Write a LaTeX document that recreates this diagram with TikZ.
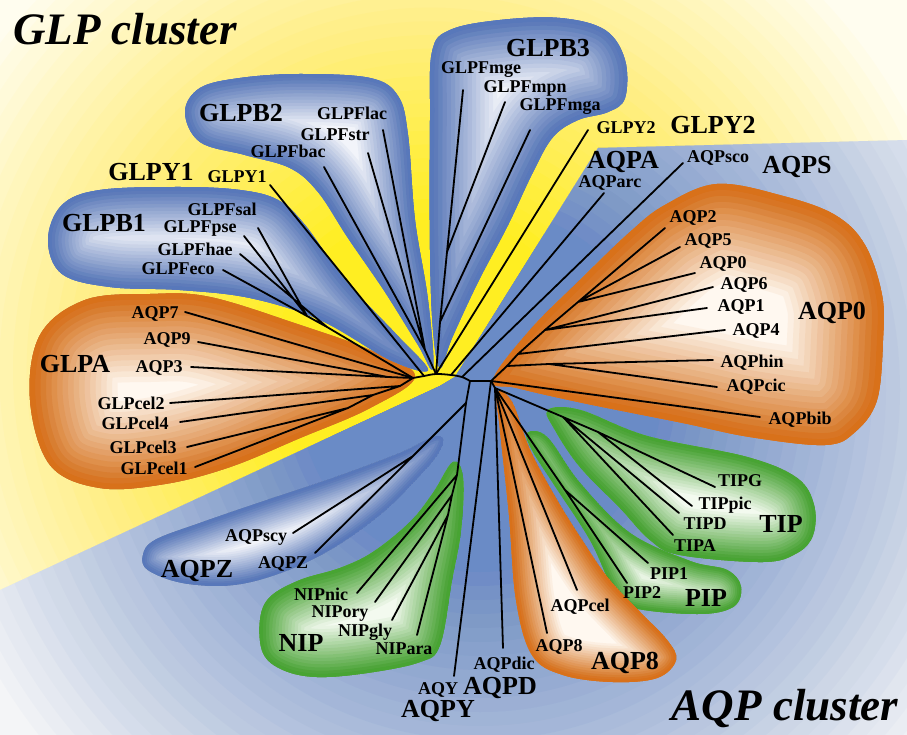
\documentclass[tikz,border=0pt]{standalone}
\usepackage{fontspec}
\setmainfont{Liberation Serif}

\definecolor{cream}{HTML}{FFFDEF}
\definecolor{ybright}{HTML}{FFEE22}
\definecolor{bgblue}{HTML}{6A8BC6}
\definecolor{bgpale}{HTML}{F4F5F7}
\definecolor{orim}{HTML}{D8711A}
\definecolor{ocore}{HTML}{FFF8F0}
\definecolor{brim}{HTML}{5878BA}
\definecolor{bcore}{HTML}{F2F4FA}
\definecolor{grim}{HTML}{48A433}
\definecolor{gcore}{HTML}{F3FAEF}

% radial glow built from stacked discs: layer k has opacity 1/k,
% which gives a linear ramp from full colour at r0 to nothing at R
% #1 colour, #2 centre, #3 r0, #4 R, #5 number of layers
\newcommand\discglow[5]{%
  \foreach \k in {1,...,#5}{%
    \pgfmathsetmacro\gop{1/\k}%
    \pgfmathsetmacro\grad{#3+\k*(#4-#3)/#5}%
    \fill[#1, opacity=\gop] #2 circle (\grad pt);
  }}

% a clade blob: pale core with an inner glow of the rim colour
% #1 rim colour, #2 core colour, #3 glow step, #4 outline points
\newcommand\glowblob[4]{%
  \begin{scope}
    \clip plot[smooth cycle, tension=0.6] coordinates {#4};
    \fill[#2] plot[smooth cycle, tension=0.6] coordinates {#4};
    \foreach \k in {1,...,16}{%
      \pgfmathsetmacro\bop{1/\k}%
      \draw[#1, line width={2*\k*#3}, opacity=\bop, line join=round]
        plot[smooth cycle, tension=0.6] coordinates {#4};
    }
  \end{scope}}

\tikzset{
  tree/.style={line width=1.8pt, line cap=round, line join=round},
  sm/.style={font=\bfseries\fontsize{18}{18}\selectfont, inner sep=0pt, anchor=base, yshift=-6pt},
  big/.style={font=\bfseries\fontsize{26}{26}\selectfont, inner sep=0pt, anchor=base, yshift=-9pt},
  ttl/.style={font=\bfseries\itshape\fontsize{45}{45}\selectfont, inner sep=0pt, anchor=base},
}

\begin{document}
\begin{tikzpicture}[x=1pt,y=-1pt]
\useasboundingbox (0,0) rectangle (907,735);

% ---- background: GLP half (yellow) and AQP half (blue)
\begin{scope}
  \clip (0,0) rectangle (907,735);
  \fill[cream] (0,0) rectangle (907,735);
  \discglow{ybright}{(430,370)}{130}{540}{30}
\end{scope}
\begin{scope}
  \clip (0,590) -- (440,386) -- (455,377) -- (598,148) -- (907,140) -- (907,735) -- (0,735) -- cycle;
  \fill[bgpale] (0,0) rectangle (907,735);
  \discglow{bgblue}{(480,390)}{140}{560}{30}
\end{scope}

% ---- clade blobs
% GLPA
\glowblob{orim}{ocore}{5.5pt}{(30,400) (40,335) (85,300) (150,294) (210,297) (300,325) (370,350) (415,376) (370,408) (300,438) (230,467) (165,484) (100,488) (50,465)}
% GLPB1
\glowblob{brim}{bcore}{3.4pt}{(48,240) (62,205) (100,190) (180,187) (240,190) (278,200) (305,225) (345,280) (395,333) (428,370) (390,360) (320,320) (250,298) (180,290) (110,287) (62,274)}
% GLPB2
\glowblob{brim}{bcore}{3.2pt}{(185,112) (200,88) (240,78) (300,74) (370,78) (398,96) (408,135) (415,220) (428,300) (433,368) (418,345) (385,292) (348,238) (318,192) (290,168) (245,155) (200,142)}
% GLPB3
\glowblob{brim}{bcore}{4.2pt}{(432,52) (450,30) (500,20) (560,18) (605,30) (625,60) (625,98) (608,112) (578,120) (553,137) (533,172) (508,225) (478,282) (452,338) (440,368) (433,330) (430,250) (430,120)}
% AQP0
\glowblob{orim}{ocore}{6pt}{(493,380) (530,330) (580,280) (630,232) (665,205) (717,184) (783,196) (835,215) (865,245) (882,295) (883,340) (877,400) (855,432) (825,445) (750,437) (683,423) (583,403) (517,388)}
% TIP
\glowblob{grim}{gcore}{3pt}{(548,410) (580,410) (647,436) (747,457) (797,478) (814,505) (813,535) (797,553) (763,562) (680,555) (650,540) (620,508) (580,467) (555,430)}
% PIP
\glowblob{grim}{gcore}{2pt}{(527,433) (547,437) (580,483) (630,533) (690,561) (727,570) (741,587) (733,607) (697,614) (630,607) (612,587) (590,540) (553,483) (532,450)}
% AQP8
\glowblob{orim}{ocore}{2.4pt}{(497,393) (512,402) (530,450) (557,500) (582,540) (608,578) (640,612) (667,640) (676,660) (657,678) (613,682) (563,675) (532,655) (516,600) (509,515) (500,430)}
% NIP
\glowblob{grim}{gcore}{3.2pt}{(453,462) (463,478) (461,530) (452,580) (440,645) (420,662) (367,673) (317,677) (283,670) (263,653) (260,620) (270,597) (300,580) (340,568) (373,552) (410,522) (433,493)}
% AQPZ
\glowblob{brim}{bcore}{2.2pt}{(143,555) (155,540) (200,523) (267,500) (333,478) (400,453) (433,437) (443,440) (437,455) (420,475) (383,512) (333,548) (283,572) (233,585) (183,583) (148,570)}

% ---- tree: internal nodes
\coordinate (rA) at (413,378);
\coordinate (rB) at (424,376);
\coordinate (rC) at (436,374);
\coordinate (rD) at (451,375);
\coordinate (rE) at (462,377);
\coordinate (J1) at (470,381);
\coordinate (J2) at (491,381);
\coordinate (Jq) at (495,388);
\coordinate (ga1) at (388,377);
\coordinate (ga2) at (400,386);
\coordinate (ga3) at (373,395);
\coordinate (ga4) at (348,408);
\coordinate (b1) at (327,327);
\coordinate (b1a) at (307,316);
\coordinate (gb2) at (425,350);
\coordinate (gb3b) at (440,322);
\coordinate (gb3a) at (447,252);
\coordinate (K) at (466,403);
\coordinate (Zn) at (413,456);
\coordinate (Nn) at (457,475);
\coordinate (Nn2) at (452,495);
\coordinate (Nn3) at (448,515);
\coordinate (Pn) at (565,490);
\coordinate (t1) at (563,417);
\coordinate (t2) at (598,432);
\coordinate (c1) at (507,366);
\coordinate (hn) at (549,364);
\coordinate (c2) at (518,354);
\coordinate (c3) at (545,330);
\coordinate (c4) at (578,302);

% ---- tree: leaf ends
\coordinate (eAQP7) at (185,312);
\coordinate (eAQP9) at (198,342);
\coordinate (eAQP3) at (191,367);
\coordinate (eCel2) at (170,403);
\coordinate (eCel4) at (180,422);
\coordinate (eCel3) at (187,447);
\coordinate (eCel1) at (195,467);
\coordinate (eSal) at (258,228);
\coordinate (ePse) at (244,236);
\coordinate (eHae) at (240,254);
\coordinate (eEco) at (223,270);
\coordinate (eY1) at (270,185);
\coordinate (eBac) at (324,167);
\coordinate (eStr) at (368,153);
\coordinate (eLac) at (383,130);
\coordinate (eMge) at (463,90);
\coordinate (eMpn) at (505,102);
\coordinate (eMga) at (530,130);
\coordinate (eY2) at (588,130);
\coordinate (eArc) at (604,193);
\coordinate (eSco) at (683,163);
\coordinate (eA2) at (665,228);
\coordinate (eA5) at (680,247);
\coordinate (eA0) at (695,273);
\coordinate (eA6) at (713,287);
\coordinate (eA1) at (707,308);
\coordinate (eA4) at (725,330);
\coordinate (eHin) at (713,360);
\coordinate (eCic) at (717,387);
\coordinate (eBib) at (760,417);
\coordinate (eTG) at (715,487);
\coordinate (eTpic) at (692,506);
\coordinate (eTD) at (679,513);
\coordinate (eTA) at (673,535);
\coordinate (eP1) at (648,563);
\coordinate (eP2) at (627,583);
\coordinate (eCel) at (577,590);
\coordinate (eA8) at (547,633);
\coordinate (eDic) at (503,648);
\coordinate (eAQY) at (454,676);
\coordinate (eScy) at (293,533);
\coordinate (eZ) at (315,553);
\coordinate (eNic) at (357,593);
\coordinate (eOry) at (375,602);
\coordinate (eGly) at (392,620);
\coordinate (eAra) at (417,635);

% ---- tree: branches
\begin{scope}[tree]
  \draw plot[smooth, tension=0.6] coordinates {(rA) (rB) (rC) (rD) (rE) (J1)};
  \draw (J1) -- (J2) -- (Jq);
  % GLPA
  \draw (rA) -- (eAQP7);
  \draw (rA) -- (ga1) (ga1) -- (eAQP9) (ga1) -- (eAQP3);
  \draw (rA) -- (ga2) -- (eCel2) (ga2) -- (ga3) -- (eCel4) (ga3) -- (ga4) -- (eCel3) (ga4) -- (eCel1);
  % GLPB1
  \draw (rA) -- (b1) -- (b1a) -- (eSal) (b1a) -- (ePse) (b1) -- (eHae) (b1) -- (eEco);
  % GLPY1
  \draw (rB) -- (eY1);
  % GLPB2
  \draw (rC) -- (gb2) -- (eBac) (gb2) -- (eStr) (gb2) -- (eLac);
  % GLPB3
  \draw (rC) -- (gb3b) -- (gb3a) -- (eMge) (gb3a) -- (eMpn) (gb3b) -- (eMga);
  % GLPY2, AQPA, AQPS
  \draw (rC) -- (eY2);
  \draw (rD) -- (eArc);
  \draw (rE) -- (eSco);
  % AQPZ and NIP
  \draw (J1) -- (K) -- (Zn) -- (eScy) (Zn) -- (eZ);
  \draw (K) -- (Nn) -- (eNic) (Nn) -- (Nn2) -- (eOry) (Nn2) -- (Nn3) -- (eGly) (Nn3) -- (eAra);
  % AQPY, AQPD
  \draw (J2) -- (eAQY);
  \draw (Jq) -- (eDic);
  % AQP8
  \draw (Jq) -- (eA8) (Jq) -- (eCel);
  % PIP
  \draw (Jq) -- (Pn) -- (eP1) (Pn) -- (eP2);
  % TIP
  \draw (Jq) -- (t1) -- (eTA) (t1) -- (eTD) (t1) -- (t2) -- (eTpic) (t2) -- (eTG);
  % AQP0
  \draw (J2) -- (eBib);
  \draw (J2) -- (c1) -- (hn) -- (eHin) (hn) -- (eCic);
  \draw (c1) -- (c2) -- (eA4) (c2) -- (c3) -- (eA1) (c3) -- (eA6);
  \draw (c3) -- (c4) -- (eA0) (c4) -- (eA5) (c4) -- (eA2);
\end{scope}

% ---- leaf labels
\node[sm] (lLac) at (352,114) {GLPFlac};
\node[sm] (lStr) at (335,135) {GLPFstr};
\node[sm] (lBac) at (288,152) {GLPFbac};
\node[sm] (lY1) at (237,177) {GLPY1};
\node[sm] (lSal) at (222,210) {GLPFsal};
\node[sm] (lPse) at (200,227) {GLPFpse};
\node[sm] (lHae) at (195,249) {GLPFhae};
\node[sm] (lEco) at (178,268) {GLPFeco};
\node[sm] (lAQP7) at (155,312) {AQP7};
\node[sm] (lAQP9) at (167,338) {AQP9};
\node[sm] (lAQP3) at (159,366) {AQP3};
\node[sm] (lCel2) at (131,403) {GLPcel2};
\node[sm] (lCel4) at (135,423) {GLPcel4};
\node[sm] (lCel3) at (143,447) {GLPcel3};
\node[sm] (lCel1) at (154,468) {GLPcel1};
\node[sm] (lMge) at (481,68) {GLPFmge};
\node[sm] (lMpn) at (525,87) {GLPFmpn};
\node[sm] (lMga) at (560,105) {GLPFmga};
\node[sm] (lY2) at (626,128) {GLPY2};
\node[sm] (lArc) at (610,182) {AQParc};
\node[sm] (lSco) at (718,157) {AQPsco};
\node[sm] (lA2) at (693,217) {AQP2};
\node[sm] (lA5) at (708,240) {AQP5};
\node[sm] (lA0) at (723,263) {AQP0};
\node[sm] (lA6) at (744,283) {AQP6};
\node[sm] (lA1) at (741,305) {AQP1};
\node[sm] (lA4) at (756,329) {AQP4};
\node[sm] (lHin) at (752,361) {AQPhin};
\node[sm] (lCic) at (756,385) {AQPcic};
\node[sm] (lBib) at (800,418) {AQPbib};
\node[sm] (lTG) at (740,480) {TIPG};
\node[sm] (lTpic) at (725,503) {TIPpic};
\node[sm] (lTD) at (705,523) {TIPD};
\node[sm] (lTA) at (695,545) {TIPA};
\node[sm] (lP1) at (669,573) {PIP1};
\node[sm] (lP2) at (642,592) {PIP2};
\node[sm] (lCel) at (580,605) {AQPcel};
\node[sm] (lA8) at (559,645) {AQP8};
\node[sm] (lDic) at (504,663) {AQPdic};
\node[sm] (lAQY) at (438,688) {AQY};
\node[sm] (lScy) at (256,535) {AQPscy};
\node[sm] (lZ) at (283,562) {AQPZ};
\node[sm] (lNic) at (321,594) {NIPnic};
\node[sm] (lOry) at (340,611) {NIPory};
\node[sm] (lGly) at (365,630) {NIPgly};
\node[sm] (lAra) at (404,648) {NIPara};

% ---- clade labels
\node[big] (cGLPB2) at (241,113) {GLPB2};
\node[big] (cGLPY1) at (151,172) {GLPY1};
\node[big] (cGLPB1) at (104,223) {GLPB1};
\node[big] (cGLPA) at (75,363) {GLPA};
\node[big] (cGLPB3) at (548,48) {GLPB3};
\node[big] (cGLPY2) at (713,125) {GLPY2};
\node[big] (cAQPA) at (623,160) {AQPA};
\node[big] (cAQPS) at (797,165) {AQPS};
\node[big] (cAQP0) at (832,310) {AQP0};
\node[big] (cTIP) at (781,523) {TIP};
\node[big] (cPIP) at (706,597) {PIP};
\node[big] (cAQP8) at (625,660) {AQP8};
\node[big] (cAQPD) at (500,685) {AQPD};
\node[big] (cAQPY) at (438,708) {AQPY};
\node[big] (cNIP) at (301,642) {NIP};
\node[big] (cAQPZ) at (197,568) {AQPZ};

% ---- cluster titles
\node[ttl] (tGLP) at (125,45) {GLP cluster};
\node[ttl] (tAQP) at (785,720) {AQP cluster};
\end{tikzpicture}
\end{document}
